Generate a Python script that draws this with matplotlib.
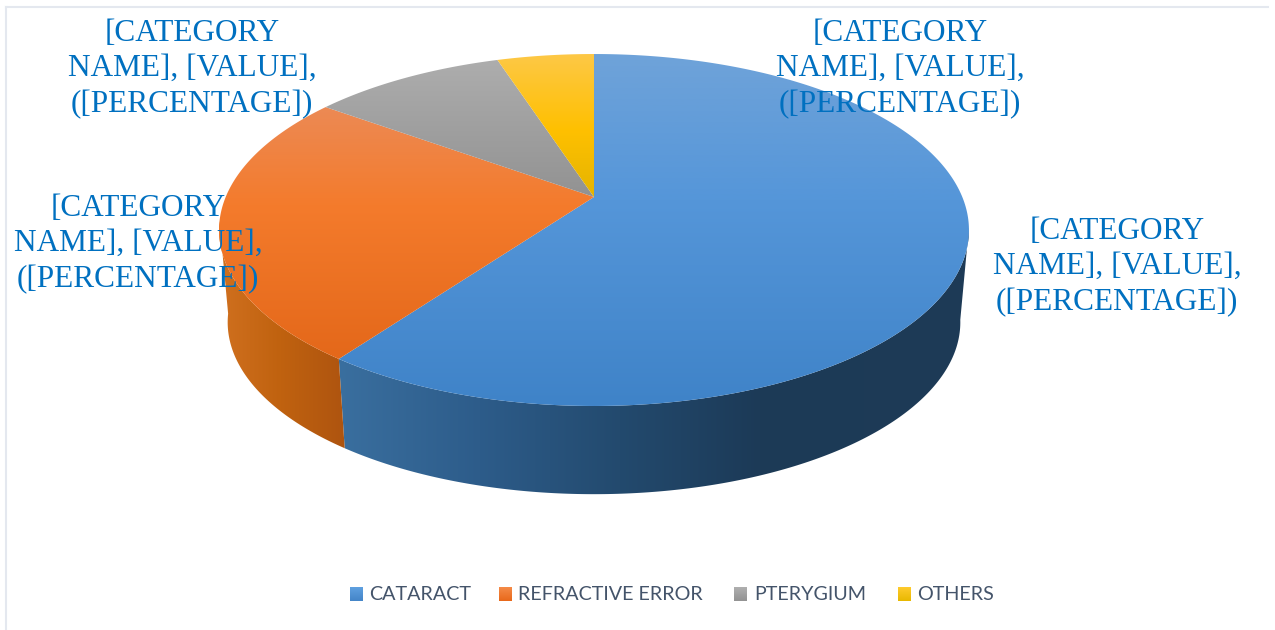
import numpy as np
import matplotlib
matplotlib.use('Agg')
import matplotlib.pyplot as plt
from matplotlib.colors import to_rgb
from matplotlib.patches import Polygon

categories = ['CATARACT', 'REFRACTIVE ERROR', 'PTERYGIUM', 'OTHERS']
values = [60, 25, 10, 5]
label_text = '[CATEGORY\nNAME], [VALUE],\n([PERCENTAGE])'

# geometria della torta in prospettiva (pixel)
cx, cy = 594, 197
k, a, c = 368.3, 169.8, 0.1875
depth_y, shrink = 93, 0.977

# sfumature (y, colore) della faccia superiore
top_shades = [
    [(54, '#6fa3d9'), (200, '#5596d9'), (406, '#3f83c8')],
    [(105, '#ec8a55'), (205, '#f47b2c'), (358, '#e4681a')],
    [(60, '#adadad'), (197, '#929292')],
    [(54, '#fdc846'), (130, '#ffc000'), (197, '#e4b400')],
]
# sfumature (x, colore) del bordo laterale
side_shades = [
    [(338, '#3a6f9f'), (480, '#2d5c8a'), (620, '#234a6e'), (760, '#1c3a57'), (970, '#1e3b56')],
    [(219, '#d0701f'), (280, '#c0620f'), (345, '#ae5410')],
]
legend_shades = [('#5fa0e0', '#4485c8'), ('#f58b48', '#e8681a'), ('#b0b0b0', '#929292'), ('#ffcb2e', '#e8b800')]


def rim(t, scale=1.0, off=0.0):
    # t in gradi, in senso orario dalle ore 12
    u, v = np.sin(np.radians(t)), np.cos(np.radians(t))
    den = 1 + c * v
    return cx + scale * k * u / den, cy + off - scale * a * v / den


def shade(stops, pos):
    p = [s[0] for s in stops]
    col = np.array([to_rgb(s[1]) for s in stops])
    return np.stack([np.interp(pos, p, col[:, i]) for i in range(3)], axis=-1)


def clip_patch(ax, pts):
    patch = Polygon(pts, closed=True, fc='none', ec='none', transform=ax.transData)
    ax.add_patch(patch)
    return patch


def v_gradient(ax, stops, extent, patch, z=3):
    ys = np.linspace(extent[3], extent[2], 300)
    im = ax.imshow(shade(stops, ys)[:, None, :], extent=extent, aspect='auto', interpolation='bilinear', zorder=z)
    im.set_clip_path(patch)


def h_gradient(ax, stops, extent, patch, z=2):
    xs = np.linspace(extent[0], extent[1], 400)
    im = ax.imshow(shade(stops, xs)[None, :, :], extent=extent, aspect='auto', interpolation='bilinear', zorder=z)
    im.set_clip_path(patch)


fig = plt.figure(figsize=(12.75, 6.3), dpi=100)
ax = fig.add_axes([0, 0, 1, 1])

# filetti della cornice, solo sopra e a sinistra
ax.plot([6, 1268], [7, 7], color='#e4e8ef', lw=1.5, zorder=1)
ax.plot([6, 6], [7, 630], color='#e4e8ef', lw=1.5, zorder=1)

edges = np.cumsum([0] + values) / sum(values) * 360

# bordo laterale visibile
for i in range(len(side_shades)):
    t0 = max(edges[i], 100)
    t1 = min(edges[i + 1], 262)
    ts = np.linspace(t0, t1, 200)
    xa, ya = rim(ts)
    xb, yb = rim(ts, shrink, depth_y)
    pts = np.column_stack([np.r_[xa, xb[::-1]], np.r_[ya, yb[::-1]]])
    h_gradient(ax, side_shades[i], (200, 990, 510, 200), clip_patch(ax, pts))

# faccia superiore
for i in range(len(values)):
    ts = np.linspace(edges[i], edges[i + 1], 300)
    xr, yr = rim(ts)
    pts = np.column_stack([np.r_[cx, xr], np.r_[cy, yr]])
    v_gradient(ax, top_shades[i], (200, 990, 420, 40), clip_patch(ax, pts))

# etichette dei dati
label_pos = [(1117, 267), (138, 244), (192, 69), (900, 69)]
for (lx, ly) in label_pos:
    ax.text(lx, ly, label_text, ha='center', va='center', ma='center', color='#0070c0',
            family='Liberation Serif', fontsize=22.5, linespacing=1.29, zorder=5)

# legenda
swatch_x = [350, 499, 734, 898]
text_x = [369, 518, 754, 917]
for i, name in enumerate(categories):
    sw = clip_patch(ax, [(swatch_x[i], 587), (swatch_x[i] + 13, 587), (swatch_x[i] + 13, 601), (swatch_x[i], 601)])
    stops = [(587, legend_shades[i][0]), (601, legend_shades[i][1])]
    v_gradient(ax, stops, (swatch_x[i], swatch_x[i] + 13, 601, 587), sw)
    ax.text(text_x[i], 594, name, ha='left', va='center', color='#44546a', family='Lato', fontsize=14.2, zorder=5)

ax.set_xlim(0, 1275)
ax.set_ylim(630, 0)
ax.axis('off')
fig.savefig('out.png', dpi=100, facecolor='white')
